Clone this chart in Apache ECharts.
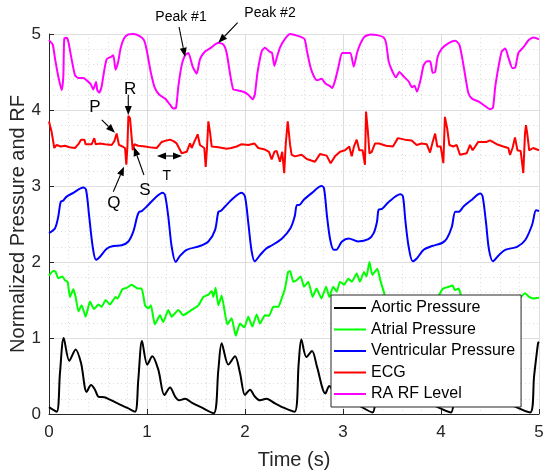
<!DOCTYPE html>
<html>
<head>
<meta charset="utf-8">
<title>Cardiac signals and RA RF level</title>
<script src="https://cdn.jsdelivr.net/npm/echarts/dist/echarts.min.js"></script>
<style>
  html, body { margin: 0; padding: 0; background: #ffffff; }
  #chart { width: 544px; height: 472px; }
</style>
</head>
<body>
<div id="chart"></div>
<script>
// ---- Signal samples (time in s, normalized amplitude) ----
const seriesNames = ['Aortic Pressure', 'Atrial Pressure', 'Ventricular Pressure', 'ECG', 'RA RF Level'];

const aorticT = [0, 0.078, 0.112, 0.15, 0.207, 0.272, 0.327, 0.384, 0.429, 0.469, 0.503, 0.565, 0.605, 0.70, 0.80, 0.878,
  0.911, 0.949, 1.003, 1.054, 1.116, 1.177, 1.235, 1.286, 1.327, 1.388, 1.456, 1.55, 1.68,
  1.728, 1.762, 1.83, 1.898, 1.949, 2.0, 2.051, 2.10, 2.153, 2.22, 2.306, 2.40, 2.507,
  2.548, 2.575, 2.626, 2.684, 2.735, 2.82, 2.86, 2.90, 2.95, 3.0, 3.05, 3.15, 3.30,
  3.34, 3.37, 3.42, 3.48, 3.54, 3.60, 3.65, 3.69, 3.74, 3.82, 3.95, 4.10,
  4.14, 4.17, 4.22, 4.28, 4.34, 4.40, 4.45, 4.49, 4.54, 4.62, 4.75, 4.91, 4.95, 4.99, 5.0];
const aorticP = [0.09, 0.03, 0.54, 1.0, 0.70, 0.85, 0.67, 0.29, 0.38, 0.32, 0.23, 0.22, 0.20, 0.14, 0.08, 0.03,
  0.45, 0.96, 0.65, 0.76, 0.58, 0.25, 0.35, 0.23, 0.18, 0.20, 0.15, 0.09, 0.01,
  0.58, 0.93, 0.65, 0.76, 0.54, 0.25, 0.32, 0.23, 0.18, 0.20, 0.14, 0.08, 0.03,
  0.67, 0.98, 0.75, 0.83, 0.62, 0.27, 0.37, 0.30, 0.22, 0.23, 0.19, 0.12, 0.02,
  0.55, 0.96, 0.70, 0.80, 0.58, 0.27, 0.35, 0.25, 0.20, 0.19, 0.10, 0.02,
  0.55, 0.96, 0.70, 0.80, 0.58, 0.27, 0.35, 0.25, 0.20, 0.19, 0.10, 0.02, 0.50, 0.93, 0.95];

const atrialT = [0, 0.044, 0.068, 0.095, 0.136, 0.163, 0.19, 0.214, 0.248, 0.272, 0.30, 0.333, 0.374, 0.418, 0.459, 0.503,
  0.537, 0.578, 0.622, 0.68, 0.70, 0.748, 0.793, 0.844, 0.905, 0.946, 0.98, 1.014, 1.04, 1.08, 1.133, 1.166,
  1.217, 1.252, 1.32, 1.37, 1.456, 1.524, 1.575, 1.626, 1.66, 1.677, 1.70, 1.728, 1.762, 1.796, 1.82, 1.864,
  1.905, 1.949, 1.993, 2.034, 2.075, 2.119, 2.153, 2.204, 2.245, 2.289, 2.34, 2.374, 2.408, 2.44, 2.46, 2.493,
  2.527, 2.568, 2.602, 2.646, 2.69, 2.73, 2.78, 2.827, 2.86, 2.90, 2.935, 2.97, 3.01, 3.054, 3.09, 3.14, 3.173,
  3.214, 3.24, 3.27, 3.30, 3.35, 3.385, 3.42, 3.46, 3.50, 3.56, 3.62, 3.68, 3.75, 3.82, 3.90, 3.96, 3.99,
  4.02, 4.07, 4.12, 4.14, 4.18, 4.20, 4.24, 4.30, 4.36, 4.42, 4.50, 4.58, 4.66, 4.74, 4.80, 4.857, 4.90, 4.94, 5.0];
const atrialP = [1.82, 1.88, 1.87, 1.785, 1.81, 1.76, 1.74, 1.54, 1.64, 1.54, 1.35, 1.43, 1.28, 1.48, 1.38, 1.44,
  1.41, 1.50, 1.44, 1.54, 1.52, 1.64, 1.66, 1.70, 1.65, 1.65, 1.43, 1.39, 1.43, 1.18, 1.30, 1.21,
  1.37, 1.28, 1.37, 1.30, 1.37, 1.43, 1.54, 1.57, 1.62, 1.54, 1.66, 1.43, 1.56, 1.32, 1.18, 1.26,
  1.03, 1.19, 1.14, 1.28, 1.15, 1.31, 1.19, 1.30, 1.29, 1.41, 1.41, 1.52, 1.65, 1.87, 1.88, 1.74,
  1.76, 1.81, 1.675, 1.74, 1.54, 1.65, 1.52, 1.675, 1.54, 1.675, 1.61, 1.74, 1.70, 1.78, 1.74, 1.85, 1.74,
  1.87, 1.81, 2.00, 1.83, 1.91, 1.74, 1.59, 1.38, 1.28, 1.34, 1.26, 1.36, 1.32, 1.42, 1.45, 1.52, 1.59,
  1.65, 1.67, 1.69, 1.63, 1.65, 1.575, 1.40, 1.25, 1.33, 1.27, 1.35, 1.33, 1.42, 1.47, 1.52, 1.59, 1.54, 1.52, 1.53];

const ventT = [0, 0.06, 0.095, 0.119, 0.146, 0.18, 0.248, 0.35, 0.378, 0.41, 0.446, 0.48, 0.52, 0.589, 0.656, 0.742,
  0.81, 0.86, 0.90, 0.92, 0.946, 0.997, 1.08, 1.16, 1.184, 1.217, 1.252, 1.293, 1.337, 1.405, 1.54, 1.626,
  1.694, 1.728, 1.752, 1.796, 1.88, 1.966, 2.0, 2.034, 2.068, 2.10, 2.153, 2.22, 2.276, 2.378, 2.462, 2.507,
  2.53, 2.554, 2.6, 2.684, 2.78, 2.806, 2.837, 2.87, 2.905, 2.93, 2.99, 3.058, 3.153, 3.26, 3.313, 3.347,
  3.364, 3.40, 3.466, 3.585, 3.612, 3.636, 3.67, 3.711, 3.755, 3.823, 3.908, 4.01, 4.06, 4.11, 4.146, 4.18,
  4.23, 4.316, 4.40, 4.425, 4.46, 4.49, 4.53, 4.59, 4.656, 4.776, 4.86, 4.93, 4.97, 5.0];
const ventP = [2.38, 2.44, 2.60, 2.79, 2.81, 2.86, 2.91, 2.98, 2.95, 2.60, 2.20, 2.03, 2.07, 2.175, 2.21, 2.22,
  2.27, 2.40, 2.60, 2.66, 2.67, 2.73, 2.84, 2.91, 2.88, 2.60, 2.20, 2.00, 2.08, 2.16, 2.21, 2.27,
  2.42, 2.66, 2.67, 2.73, 2.84, 2.91, 2.86, 2.51, 2.14, 2.01, 2.09, 2.18, 2.22, 2.31, 2.44, 2.60,
  2.75, 2.75, 2.82, 2.91, 3.0, 2.97, 2.60, 2.29, 2.16, 2.16, 2.27, 2.31, 2.27, 2.30, 2.38, 2.53,
  2.69, 2.70, 2.79, 2.89, 2.86, 2.55, 2.20, 2.01, 2.05, 2.16, 2.21, 2.25, 2.31, 2.46, 2.66, 2.66,
  2.73, 2.82, 2.90, 2.86, 2.51, 2.16, 2.01, 2.09, 2.16, 2.20, 2.29, 2.49, 2.68, 2.67];

const ecgT = [0, 0.027, 0.054, 0.078, 0.12, 0.163, 0.21, 0.265, 0.30, 0.327, 0.36, 0.374, 0.436, 0.462, 0.476, 0.52,
  0.571, 0.64, 0.667, 0.69, 0.714, 0.748, 0.776, 0.789, 0.80, 0.81, 0.827, 0.844, 0.854, 0.871, 0.911, 0.98,
  1.048, 1.099, 1.15, 1.20, 1.235, 1.27, 1.303, 1.354, 1.405, 1.439, 1.456, 1.483, 1.517, 1.54, 1.585, 1.599,
  1.612, 1.626, 1.643, 1.66, 1.728, 1.813, 1.86, 1.915, 1.966, 2.034, 2.095, 2.136, 2.204, 2.245, 2.272, 2.30,
  2.323, 2.357, 2.38, 2.40, 2.415, 2.436, 2.448, 2.46, 2.476, 2.51, 2.527, 2.578, 2.63, 2.714, 2.765, 2.833,
  2.874, 2.918, 2.97, 3.02, 3.064, 3.089, 3.112, 3.14, 3.166, 3.20, 3.224, 3.235, 3.252, 3.27, 3.293, 3.327,
  3.367, 3.44, 3.51, 3.56, 3.633, 3.70, 3.752, 3.803, 3.854, 3.888, 3.915, 3.94, 3.962, 3.997, 4.024, 4.04,
  4.064, 4.085, 4.126, 4.16, 4.194, 4.262, 4.296, 4.323, 4.38, 4.466, 4.50, 4.568, 4.636, 4.687, 4.704, 4.73,
  4.755, 4.78, 4.813, 4.84, 4.857, 4.867, 4.88, 4.90, 4.94, 5.0];
const ecgV = [3.85, 3.71, 3.50, 3.54, 3.52, 3.53, 3.51, 3.50, 3.55, 3.61, 3.61, 3.55, 3.55, 3.63, 3.55, 3.56,
  3.55, 3.54, 3.59, 3.69, 3.54, 3.52, 3.50, 3.28, 3.51, 3.925, 3.89, 3.63, 3.47, 3.55, 3.53, 3.52,
  3.505, 3.50, 3.58, 3.60, 3.61, 3.59, 3.56, 3.43, 3.45, 3.56, 3.50, 3.58, 3.68, 3.54, 3.50, 3.25,
  3.50, 3.85, 3.71, 3.52, 3.51, 3.49, 3.50, 3.52, 3.55, 3.54, 3.56, 3.50, 3.48, 3.45, 3.35, 3.45,
  3.46, 3.32, 3.45, 3.17, 3.54, 3.85, 3.70, 3.54, 3.41, 3.39, 3.39, 3.41, 3.355, 3.32, 3.42, 3.40,
  3.30, 3.39, 3.45, 3.47, 3.52, 3.39, 3.52, 3.61, 3.47, 3.47, 3.28, 3.98, 3.75, 3.43, 3.45, 3.56,
  3.56, 3.53, 3.52, 3.63, 3.61, 3.60, 3.54, 3.56, 3.55, 3.44, 3.58, 3.69, 3.52, 3.52, 3.30, 3.91,
  3.75, 3.54, 3.52, 3.54, 3.41, 3.43, 3.54, 3.47, 3.58, 3.58, 3.60, 3.55, 3.52, 3.50, 3.41, 3.50,
  3.64, 3.47, 3.46, 3.17, 3.69, 3.80, 3.69, 3.47, 3.50, 3.47];

const rfT = [0, 0.038, 0.061, 0.095, 0.13, 0.146, 0.156, 0.18, 0.197, 0.232, 0.265, 0.30, 0.35, 0.385, 0.425, 0.452,
  0.48, 0.493, 0.513, 0.537, 0.561, 0.589, 0.633, 0.656, 0.68, 0.707, 0.73, 0.765, 0.81, 0.86, 0.929, 0.969,
  0.997, 1.038, 1.08, 1.126, 1.184, 1.235, 1.268, 1.296, 1.32, 1.354, 1.388, 1.422, 1.466, 1.507, 1.541, 1.592,
  1.643, 1.728, 1.78, 1.813, 1.847, 1.88, 1.92, 1.983, 2.034, 2.078, 2.10, 2.126, 2.17, 2.204, 2.248, 2.276,
  2.30, 2.327, 2.36, 2.41, 2.462, 2.513, 2.564, 2.609, 2.633, 2.667, 2.70, 2.735, 2.78, 2.82, 2.86, 2.888,
  2.905, 2.92, 2.956, 2.99, 3.03, 3.075, 3.11, 3.143, 3.18, 3.22, 3.28, 3.347, 3.415, 3.44, 3.466, 3.50,
  3.54, 3.575, 3.62, 3.67, 3.704, 3.73, 3.755, 3.79, 3.823, 3.857, 3.89, 3.915, 3.94, 3.966, 4.01, 4.078,
  4.146, 4.187, 4.22, 4.255, 4.28, 4.316, 4.385, 4.452, 4.50, 4.53, 4.554, 4.59, 4.62, 4.656, 4.69, 4.73,
  4.758, 4.79, 4.844, 4.895, 4.946, 5.0];
const rfV = [4.92, 4.86, 4.68, 4.44, 4.26, 4.44, 4.94, 4.95, 4.90, 4.66, 4.46, 4.42, 4.42, 4.39, 4.34, 4.27,
  4.37, 4.26, 4.23, 4.31, 4.50, 4.67, 4.70, 4.72, 4.53, 4.64, 4.81, 4.94, 4.995, 5.0, 4.97, 4.92,
  4.79, 4.50, 4.29, 4.20, 4.15, 4.07, 4.02, 4.03, 4.31, 4.59, 4.72, 4.75, 4.57, 4.48, 4.67, 4.77,
  4.81, 4.885, 4.86, 4.75, 4.48, 4.27, 4.26, 4.24, 4.20, 4.14, 4.20, 4.48, 4.77, 4.82, 4.77, 4.75,
  4.58, 4.70, 4.83, 4.94, 5.0, 4.985, 4.965, 4.93, 4.77, 4.57, 4.45, 4.39, 4.41, 4.35, 4.32, 4.29,
  4.33, 4.39, 4.58, 4.75, 4.75, 4.75, 4.57, 4.75, 4.88, 4.965, 4.995, 4.985, 4.955, 4.88, 4.64, 4.52,
  4.43, 4.50, 4.44, 4.375, 4.30, 4.32, 4.24, 4.39, 4.59, 4.64, 4.64, 4.49, 4.50, 4.70, 4.81, 4.88,
  4.91, 4.86, 4.66, 4.39, 4.22, 4.15, 4.11, 4.05, 4.01, 4.03, 4.31, 4.59, 4.77, 4.81, 4.68, 4.55,
  4.56, 4.75, 4.83, 4.92, 4.955, 4.93];

// Tick values of both axes
const xTicks = [0, 1, 2, 3, 4, 5];
const yTicks = [0, 1, 2, 3, 4, 5];

// Annotation callouts in data coordinates (label anchor, arrow tail, arrow tip)
const callouts = [
  { text: 'Peak #1', at: [1.347, 5.224], size: 14, from: [1.327, 5.092], to: [1.388, 4.70] },
  { text: 'Peak #2', at: [2.255, 5.276], size: 14, from: [1.925, 5.149], to: [1.728, 4.885] },
  { text: 'R', at: [0.827, 4.276], size: 17, from: [0.809, 4.20], to: [0.809, 3.934] },
  { text: 'P', at: [0.469, 4.04], size: 17, from: [0.538, 3.87], to: [0.673, 3.70] },
  { text: 'Q', at: [0.663, 2.772], size: 17, from: [0.656, 2.925], to: [0.765, 3.254] },
  { text: 'S', at: [0.98, 2.947], size: 17, from: [0.969, 3.145], to: [0.867, 3.513] },
  { text: 'T', at: [1.201, 3.132], size: 14, from: [1.102, 3.395], to: [1.357, 3.395], both: true }
];

const colors = ['#000000', '#00ff00', '#0000ff', '#ff0000', '#ff00ff'];
const smoothing = [0.3, 0.15, 0.3, 0, 0.2];
const font = '"Liberation Sans", Arial, Helvetica, sans-serif';
const ink = '#262626';

function zip(t, v) { return t.map((x, i) => [x, v[i]]); }
const seriesData = [zip(aorticT, aorticP), zip(atrialT, atrialP), zip(ventT, ventP), zip(ecgT, ecgV), zip(rfT, rfV)];

const chart = echarts.init(document.getElementById('chart'), null, { renderer: 'canvas' });

function valueAxis(ticks, extra) {
  return Object.assign({
    type: 'value',
    min: ticks[0],
    max: ticks[ticks.length - 1],
    interval: ticks[1] - ticks[0],
    axisLine: { show: true, onZero: false, lineStyle: { color: ink, width: 1 } },
    axisTick: { show: true, inside: true, length: 5, lineStyle: { color: ink } },
    minorTick: { show: true, splitNumber: 5, length: 0, lineStyle: { color: 'rgba(0,0,0,0)', width: 0 } },
    splitLine: { show: true, lineStyle: { color: '#dedede', width: 1 } },
    minorSplitLine: { show: true, lineStyle: { color: '#dcdcdc', width: 1, type: [1, 3] } },
    axisLabel: { color: ink, fontSize: 17, fontFamily: font },
    nameLocation: 'middle',
    nameMoveOverlap: false,
    nameTextStyle: { color: ink, fontSize: 20, fontFamily: font }
  }, extra);
}

chart.setOption({
  animation: false,
  backgroundColor: '#ffffff',
  color: colors,
  grid: { left: 49, right: 5, top: 34, bottom: 58, containLabel: false, outerBoundsMode: 'none' },
  xAxis: valueAxis(xTicks, {
    name: 'Time (s)', nameGap: 36,
    axisLabel: { color: ink, fontSize: 17, fontFamily: font, margin: 10 }
  }),
  yAxis: valueAxis(yTicks, {
    name: 'Normalized Pressure and RF', nameGap: 21,
    axisLabel: { color: ink, fontSize: 17, fontFamily: font, margin: 8 }
  }),
  legend: {
    orient: 'vertical',
    left: 331, top: 295,
    z: 10,
    backgroundColor: '#ffffff',
    borderColor: ink, borderWidth: 1, borderRadius: 0,
    padding: [5, 6, 5, 3],
    itemGap: 5.5,
    itemWidth: 32, itemHeight: 2,
    icon: 'rect',
    textStyle: { color: '#000000', fontSize: 16, fontFamily: font, lineHeight: 16 },
    data: seriesNames
  },
  series: seriesNames.map((name, i) => ({
    name: name,
    type: 'line',
    data: seriesData[i],
    showSymbol: false,
    symbol: 'none',
    smooth: smoothing[i],
    clip: true,
    lineStyle: { color: colors[i], width: 2 },
    itemStyle: { color: colors[i] },
    z: 2
  }))
});

// Arrow callouts drawn from the data-space anchors above
function toPx(p) { return chart.convertToPixel({ gridIndex: 0 }, p); }

function arrowHead(tail, tip) {
  const dx = tip[0] - tail[0], dy = tip[1] - tail[1];
  const len = Math.hypot(dx, dy);
  const ux = dx / len, uy = dy / len;
  const L = 9, W = 3.5;
  const bx = tip[0] - ux * L, by = tip[1] - uy * L;
  return {
    base: [bx, by],
    points: [[tip[0], tip[1]], [bx - uy * W, by + ux * W], [bx + uy * W, by - ux * W]]
  };
}

const graphics = [];
callouts.forEach(c => {
  const a = toPx(c.from), b = toPx(c.to), t = toPx(c.at);
  const headB = arrowHead(a, b);
  let start = a;
  if (c.both) {
    const headA = arrowHead(b, a);
    start = headA.base;
    graphics.push({ type: 'polygon', z: 20, shape: { points: headA.points }, style: { fill: '#000' } });
  }
  graphics.push({ type: 'line', z: 20, shape: { x1: start[0], y1: start[1], x2: headB.base[0], y2: headB.base[1] },
    style: { stroke: '#000', lineWidth: 1.1 } });
  graphics.push({ type: 'polygon', z: 20, shape: { points: headB.points }, style: { fill: '#000' } });
  graphics.push({ type: 'text', z: 20, x: t[0], y: t[1],
    style: { text: c.text, fill: '#000', fontSize: c.size, fontFamily: font, align: 'center', verticalAlign: 'middle',
      textAlign: 'center', textVerticalAlign: 'middle' } });
});
chart.setOption({ graphic: graphics });
</script>
</body>
</html>
